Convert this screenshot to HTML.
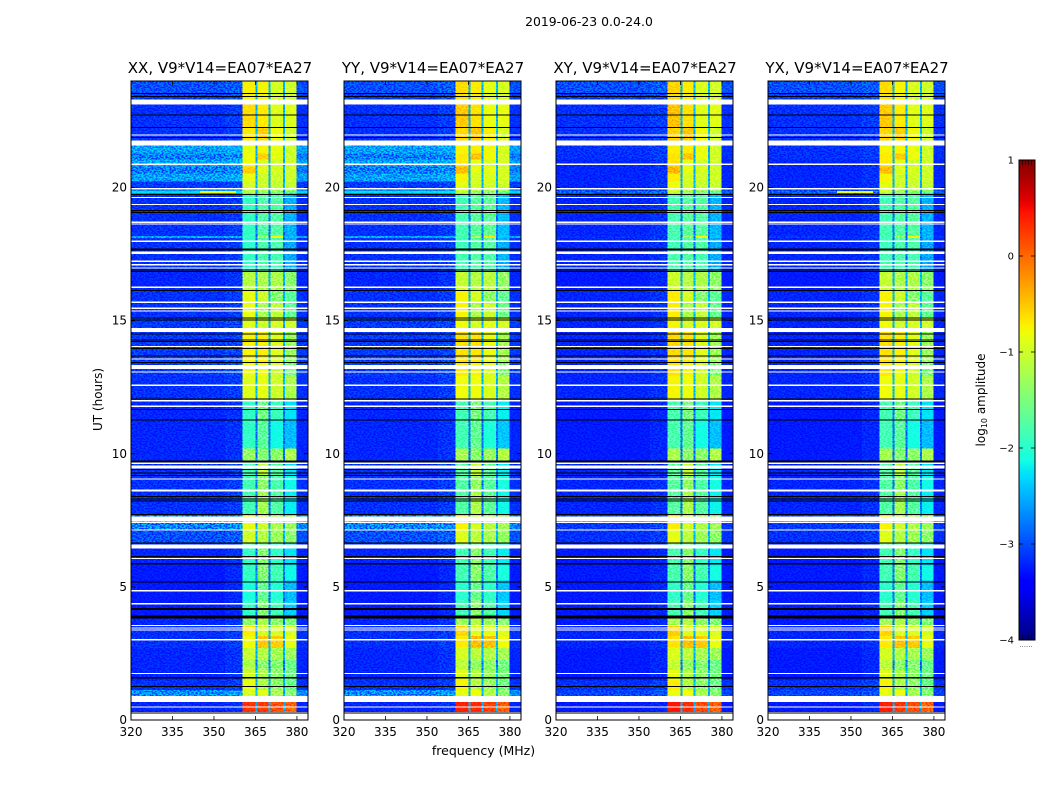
<!DOCTYPE html>
<html lang="en">
<head>
<meta charset="utf-8">
<title>2019-06-23 0.0-24.0</title>
<style>
html,body{margin:0;padding:0;background:#fff;width:1050px;height:800px;overflow:hidden}
svg{display:block}
text{font-family:"DejaVu Sans","Liberation Sans",sans-serif;fill:#000}
</style>
</head>
<body>
<svg id="fig" xmlns="http://www.w3.org/2000/svg" width="1050" height="800" viewBox="0 0 1050 800">
  <defs>
    <filter id="grain" x="0" y="0" width="100%" height="100%" color-interpolation-filters="sRGB">
      <feTurbulence type="fractalNoise" baseFrequency="0.5 0.7" numOctaves="1" seed="7"/>
      <feColorMatrix type="matrix" values="6 0 0 0 -2.5  6 0 0 0 -2.5  6 0 0 0 -2.5  0 0 0 0 1"/>
    </filter>
    <linearGradient id="jet-gradient" x1="0" y1="1" x2="0" y2="0"></linearGradient>
  </defs>
  <text x="589" y="26" font-size="12.4" text-anchor="middle">2019-06-23 0.0-24.0</text>
  <text x="483.500" y="755" font-size="12.5" text-anchor="middle">frequency (MHz)</text>
  <text transform="translate(102 399.500) rotate(-90)" font-size="12" text-anchor="middle">UT (hours)</text>
  <text transform="translate(985 400) rotate(-90)" font-size="12" text-anchor="middle">log<tspan font-size="8" dy="2">10</tspan><tspan dy="-2"> amplitude</tspan></text>
  <g id="panels"></g>
  <g id="colorbar"></g>
  <text x="1026" y="647" font-size="7" text-anchor="middle" style="fill:#555">......</text>
</svg>
<script>
// ---------- data ----------
const panelTitles = ["XX, V9*V14=EA07*EA27", "YY, V9*V14=EA07*EA27", "XY, V9*V14=EA07*EA27", "YX, V9*V14=EA07*EA27"];
const freqTicks = [320, 335, 350, 365, 380];
const hourTicks = [0, 5, 10, 15, 20];
const colorbarTicks = [1, 0, -1, -2, -3, -4];
const freqRange = [320, 384];
const hourRange = [0, 24];
const colorRange = [-4, 1];

// frequency bands: [MHz low, MHz high, column index in the rows below]
// column 0 background, 1 background near the band, 2-5 spectral windows, 6 window gaps
const freqBands = [
  [320, 354, 0], [354, 360.4, 1], [360.4, 365.1, 2], [365.1, 365.7, 6],
  [365.7, 369.8, 3], [369.8, 370.5, 6], [370.5, 374.9, 4], [374.9, 375.6, 6],
  [375.6, 379.9, 5], [379.9, 384, 0]
];

// time rows: [UT low, UT high, bg parallel, bg cross, window1, window2, window3, window4] in log10 amplitude
const timeRows = [
  [0.30, 0.67, -3.2, -3.25, 0.30, 0.28, 0.15, 0.05],
  [0.67, 1.12, -2.7, -3.05, -0.95, -0.85, -1.25, -1.45],
  [1.12, 1.50, -3.15, -3.15, -0.85, -1.20, -1.40, -1.60],
  [1.50, 1.87, -3.2, -3.25, -1.00, -1.20, -1.40, -1.55],
  [1.87, 2.25, -3.2, -3.25, -1.20, -1.40, -1.45, -1.60],
  [2.25, 2.70, -3.2, -3.25, -1.05, -1.15, -1.25, -1.30],
  [2.70, 3.15, -3.15, -3.2, -0.80, -0.50, -0.55, -0.85],
  [3.15, 3.56, -3.15, -3.2, -0.70, -0.95, -0.95, -0.95],
  [3.56, 3.86, -3.2, -3.25, -1.40, -1.20, -1.40, -1.50],
  [3.86, 4.49, -3.25, -3.25, -1.95, -1.45, -1.85, -2.35],
  [4.49, 5.24, -3.25, -3.25, -2.10, -1.65, -2.05, -2.45],
  [5.24, 5.81, -3.25, -3.25, -1.95, -1.45, -1.85, -2.15],
  [5.81, 6.44, -3.2, -3.25, -1.95, -1.45, -1.95, -2.25],
  [6.44, 6.67, -3.2, -3.25, -1.85, -1.75, -2.05, -2.35],
  [6.67, 7.12, -3.0, -3.15, -1.00, -1.15, -1.30, -1.40],
  [7.12, 7.68, -2.75, -3.1, -0.85, -1.00, -1.20, -1.30],
  [7.68, 8.61, -3.15, -3.2, -1.85, -1.25, -1.75, -2.2],
  [8.61, 9.18, -3.15, -3.2, -1.85, -1.40, -1.80, -2.15],
  [9.18, 9.74, -3.15, -3.2, -1.85, -1.10, -1.75, -2.25],
  [9.74, 10.19, -3.2, -3.25, -1.35, -1.45, -1.40, -1.20],
  [10.19, 11.24, -3.2, -3.25, -1.95, -1.70, -2.15, -2.45],
  [11.24, 11.99, -3.2, -3.25, -1.95, -1.55, -1.90, -2.25],
  [11.99, 12.92, -3.15, -3.2, -0.90, -0.85, -1.00, -1.20],
  [12.92, 13.41, -3.1, -3.2, -0.80, -0.80, -1.00, -1.50],
  [13.41, 14.61, -3.1, -3.2, -0.75, -0.72, -0.90, -1.30],
  [14.61, 15.13, -3.1, -3.2, -0.90, -1.00, -0.95, -1.00],
  [15.13, 15.73, -3.15, -3.2, -0.85, -1.25, -1.10, -1.65],
  [15.73, 16.14, -3.15, -3.2, -0.85, -1.00, -1.45, -1.70],
  [16.14, 16.85, -3.2, -3.25, -1.15, -1.20, -1.20, -1.40],
  [16.85, 17.68, -3.15, -3.2, -1.95, -1.80, -1.85, -2.55],
  [17.68, 18.10, -3.15, -3.2, -2.00, -1.80, -1.80, -2.55],
  [18.10, 18.18, -2.55, -3.15, -1.95, -1.35, -0.75, -2.45],
  [18.18, 19.78, -3.15, -3.2, -1.95, -1.75, -1.75, -2.50],
  [19.78, 19.88, -2.3, -2.9, -1.20, -1.40, -1.50, -1.70],
  [19.88, 20.22, -3.1, -3.2, -0.95, -1.00, -1.05, -1.05],
  [20.22, 20.52, -2.6, -3.2, -0.85, -1.00, -1.00, -1.00],
  [20.52, 20.79, -2.78, -3.2, -0.55, -0.90, -0.95, -1.00],
  [20.79, 21.05, -2.58, -3.2, -0.80, -0.90, -1.00, -1.00],
  [21.05, 21.27, -2.78, -3.15, -0.80, -0.55, -0.85, -1.00],
  [21.27, 21.57, -2.6, -3.15, -0.85, -0.75, -0.85, -1.00],
  [21.57, 21.80, -3.1, -3.15, -0.70, -0.65, -0.85, -1.00],
  [21.80, 22.28, -3.15, -3.15, -0.70, -0.55, -0.80, -1.00],
  [22.28, 23.15, -3.15, -3.15, -0.62, -0.70, -0.90, -0.90],
  [23.15, 23.52, -3.1, -3.1, -0.75, -0.75, -0.95, -1.00],
  [23.52, 24.00, -3.0, -3.0, -0.72, -0.75, -0.95, -1.00]
];
const gapLevel = -2.8;
const nearBandBoost = 0.06;

// narrow-band interference in the parallel/XX data: [UT low, UT high, MHz low, MHz high, level]
const interference = [[19.80, 19.87, 345, 358, -0.85]];

// per-panel additive offsets: background, window1..4
const offsetsXX = [0, 0, 0, 0, 0];
const offsetsYY = [0, 0.10, 0.05, 0.08, 0.05];
const offsetsXY = [0, 0.14, 0.05, 0.02, 0.02];
const offsetsYX = [0, 0.10, 0, 0.02, 0];
const panelOffsets = [offsetsXX, offsetsYY, offsetsXY, offsetsYX];
const panelIsCross = [false, false, true, true];

// flagged (white) and bad (black) time ranges, UT hours
const wideWhite = [[23.12, 23.31], [21.57, 21.77], [14.57, 14.73], [13.18, 13.33], [9.44, 9.56], [8.59, 8.66], [7.45, 7.65], [6.45, 6.60], [17.50, 17.60], [0.67, 0.90]];
const thinWhite = [21.97, 20.87, 19.95, 19.63, 19.36, 18.70, 18.63, 17.98, 17.23, 17.10, 16.98, 16.25, 15.69, 15.47, 15.36, 14.03, 13.56, 13.07, 12.58, 11.99, 11.79, 9.64, 9.05, 7.42, 7.14, 6.07, 4.86, 4.37, 3.55, 3.46, 3.38, 3.02, 1.75, 0.49];
const wideBlack = [[17.63, 17.70], [9.67, 9.75], [5.84, 5.90], [4.14, 4.20], [3.82, 3.92], [1.55, 1.62]];
const thinBlack = [23.53, 23.41, 22.73, 22.26, 21.88, 19.74, 19.14, 19.06, 16.91, 16.85, 16.13, 15.10, 15.02, 14.49, 14.27, 14.21, 13.96, 13.67, 13.42, 12.05, 11.67, 11.26, 9.40, 9.28, 9.18, 8.39, 8.30, 8.22, 7.72, 6.64, 6.15, 5.18, 1.26, 0.27];

// ---------- layout ----------
const panelLefts = [131, 344, 556, 768];
const axWidth = 177, axTop = 81, axBottom = 720;
const cbLeft = 1019, cbWidth = 16, cbTop = 160, cbBottom = 640;

// ---------- helpers ----------
const NS = 'http://www.w3.org/2000/svg';
function mk(tag, parent, name, attrs, txt) {
  const el = document.createElementNS(NS, tag);
  
  
  for (const k in attrs) el.setAttribute(k, attrs[k]);
  if (txt !== undefined) el.textContent = txt;
  parent.appendChild(el);
  return el;
}
function seg(pts, t) {
  for (let i = 1; i < pts.length; i++) {
    if (t <= pts[i][0]) {
      const a = pts[i - 1], b = pts[i];
      return a[1] + (b[1] - a[1]) * (t - a[0]) / (b[0] - a[0]);
    }
  }
  return pts[pts.length - 1][1];
}
function jet(t) {
  t = Math.max(0, Math.min(1, t));
  const r = seg([[0, 0], [0.35, 0], [0.66, 1], [0.89, 1], [1, 0.5]], t);
  const g = seg([[0, 0], [0.125, 0], [0.375, 1], [0.64, 1], [0.91, 0], [1, 0]], t);
  const b = seg([[0, 0.5], [0.11, 1], [0.34, 1], [0.65, 0], [1, 0]], t);
  return 'rgb(' + Math.round(r * 255) + ',' + Math.round(g * 255) + ',' + Math.round(b * 255) + ')';
}
function colorOf(v) { return jet((v - colorRange[0]) / (colorRange[1] - colorRange[0])); }
function yScale(h) { return axBottom - (h - hourRange[0]) / (hourRange[1] - hourRange[0]) * (axBottom - axTop); }
function xScale(left, f) { return left + (f - freqRange[0]) / (freqRange[1] - freqRange[0]) * axWidth; }
function minus(v) { return String(v).replace('-', '\u2212'); }

// ---------- panels ----------
const panelsG = document.getElementById('panels');
panelLefts.forEach(function (left, p) {
  const g = mk('g', panelsG, 'panel-' + panelTitles[p].slice(0, 2).toLowerCase(), {});
  const heat = mk('g', g, 'heatmap', { 'shape-rendering': 'crispEdges' });
  timeRows.forEach(function (row) {
    const y1 = yScale(row[1]), y0 = yScale(row[0]);
    freqBands.forEach(function (band) {
      let v;
      const c = band[2];
      if (c === 6) {
        v = gapLevel + (row[4] > -1.2 ? 0.3 : 0) + panelOffsets[p][0];
      } else if (c === 0 || c === 1) {
        v = (panelIsCross[p] ? row[3] : row[2]) + panelOffsets[p][0] + (c === 1 ? nearBandBoost : 0);
      } else {
        v = row[c + 2] + panelOffsets[p][c - 1];
      }
      const x0 = xScale(left, band[0]), x1 = xScale(left, band[1]);
      mk('rect', heat, 'heatmap-cell', { x: x0, y: y1, width: x1 - x0, height: y0 - y1, fill: colorOf(v) });
    });
  });
  if (p !== 1 && p !== 2) {
    interference.forEach(function (r) {
      const x0 = xScale(left, r[2]), x1 = xScale(left, r[3]);
      mk('rect', heat, 'interference-streak', { x: x0, y: yScale(r[1]), width: x1 - x0, height: yScale(r[0]) - yScale(r[1]), fill: colorOf(r[4]) });
    });
  }
  // receiver noise texture: strong on the off-band background, lighter over the bright windows
  const noiseTop = yScale(hourRange[1]), noiseHeight = yScale(0.30) - noiseTop;
  mk('rect', g, 'background-noise-texture', {
    x: left, y: noiseTop, width: xScale(left, 360.4) - left, height: noiseHeight,
    filter: 'url(#grain)', opacity: 0.6, style: 'mix-blend-mode:overlay'
  });
  mk('rect', g, 'window-noise-texture', {
    x: xScale(left, 360.4), y: noiseTop, width: xScale(left, 384) - xScale(left, 360.4), height: noiseHeight,
    filter: 'url(#grain)', opacity: 0.4, style: 'mix-blend-mode:overlay'
  });
  const flags = mk('g', g, 'flagged-time-ranges', { 'shape-rendering': 'crispEdges' });
  wideWhite.forEach(function (r) {
    mk('rect', flags, 'flagged-band', { x: left, y: yScale(r[1]), width: axWidth, height: yScale(r[0]) - yScale(r[1]), fill: '#fff' });
  });
  thinWhite.forEach(function (h) {
    mk('rect', flags, 'flagged-line', { x: left, y: yScale(h) - 0.6, width: axWidth, height: 1.3, fill: '#fff' });
  });
  thinBlack.forEach(function (h) {
    mk('rect', flags, 'bad-data-line', { x: left, y: yScale(h) - 0.5, width: axWidth, height: 1, fill: '#000' });
  });
  wideBlack.forEach(function (r) {
    mk('rect', flags, 'bad-data-band', { x: left, y: yScale(r[1]), width: axWidth, height: yScale(r[0]) - yScale(r[1]), fill: '#000' });
  });
  mk('rect', g, 'axes-frame', { x: left, y: axTop, width: axWidth, height: axBottom - axTop, fill: 'none', stroke: '#000', 'stroke-width': 1 });
  freqTicks.forEach(function (f) {
    const x = xScale(left, f);
    mk('line', g, 'x-tick', { x1: x, x2: x, y1: axBottom, y2: axBottom - 4, stroke: '#000', 'stroke-width': 0.8 });
    mk('line', g, 'x-tick-top', { x1: x, x2: x, y1: axTop, y2: axTop + 4, stroke: '#000', 'stroke-width': 0.8 });
    mk('text', g, 'x-tick-label', { x: x, y: 736, 'font-size': 12, 'text-anchor': 'middle' }, String(f));
  });
  hourTicks.forEach(function (h) {
    const y = yScale(h);
    mk('line', g, 'y-tick', { x1: left, x2: left + 4, y1: y, y2: y, stroke: '#000', 'stroke-width': 0.8 });
    mk('line', g, 'y-tick-right', { x1: left + axWidth, x2: left + axWidth - 4, y1: y, y2: y, stroke: '#000', 'stroke-width': 0.8 });
    mk('text', g, 'y-tick-label', { x: left - 4, y: y + 4, 'font-size': 12, 'text-anchor': 'end' }, String(h));
  });
  mk('text', g, 'panel-title', { x: left + axWidth / 2 + 0.5, y: 73, 'font-size': 15, 'text-anchor': 'middle' }, panelTitles[p]);
});

// ---------- colorbar ----------
const cbG = document.getElementById('colorbar');
const grad = document.getElementById('jet-gradient');
for (let i = 0; i <= 64; i++) {
  const stop = document.createElementNS(NS, 'stop');
  stop.setAttribute('offset', (i / 64 * 100) + '%');
  stop.setAttribute('stop-color', jet(i / 64));
  grad.appendChild(stop);
}
function cbY(v) { return cbBottom - (v - colorRange[0]) / (colorRange[1] - colorRange[0]) * (cbBottom - cbTop); }
mk('rect', cbG, 'colorbar-gradient', { x: cbLeft, y: cbTop, width: cbWidth, height: cbBottom - cbTop, fill: 'url(#jet-gradient)', stroke: '#000', 'stroke-width': 1 });
colorbarTicks.forEach(function (v) {
  const y = cbY(v);
  mk('line', cbG, 'colorbar-tick', { x1: cbLeft, x2: cbLeft + 4, y1: y, y2: y, stroke: '#000', 'stroke-width': 0.8 });
  mk('line', cbG, 'colorbar-tick-right', { x1: cbLeft + cbWidth, x2: cbLeft + cbWidth - 4, y1: y, y2: y, stroke: '#000', 'stroke-width': 0.8 });
  mk('text', cbG, 'colorbar-tick-label', { x: cbLeft - 5, y: y + 3.500, 'font-size': 10, 'text-anchor': 'end' }, minus(v));
});
[3, 6, 9, 12].forEach(function (dx) {
  mk('line', cbG, 'colorbar-minor-tick-top', { x1: cbLeft + dx + 0.5, x2: cbLeft + dx + 0.5, y1: cbTop, y2: cbTop + 5, stroke: '#000', 'stroke-width': 0.6 });
  mk('line', cbG, 'colorbar-minor-tick-bottom', { x1: cbLeft + dx + 0.5, x2: cbLeft + dx + 0.5, y1: cbBottom, y2: cbBottom - 5, stroke: '#000', 'stroke-width': 0.6 });
});
</script>
</body>
</html>
